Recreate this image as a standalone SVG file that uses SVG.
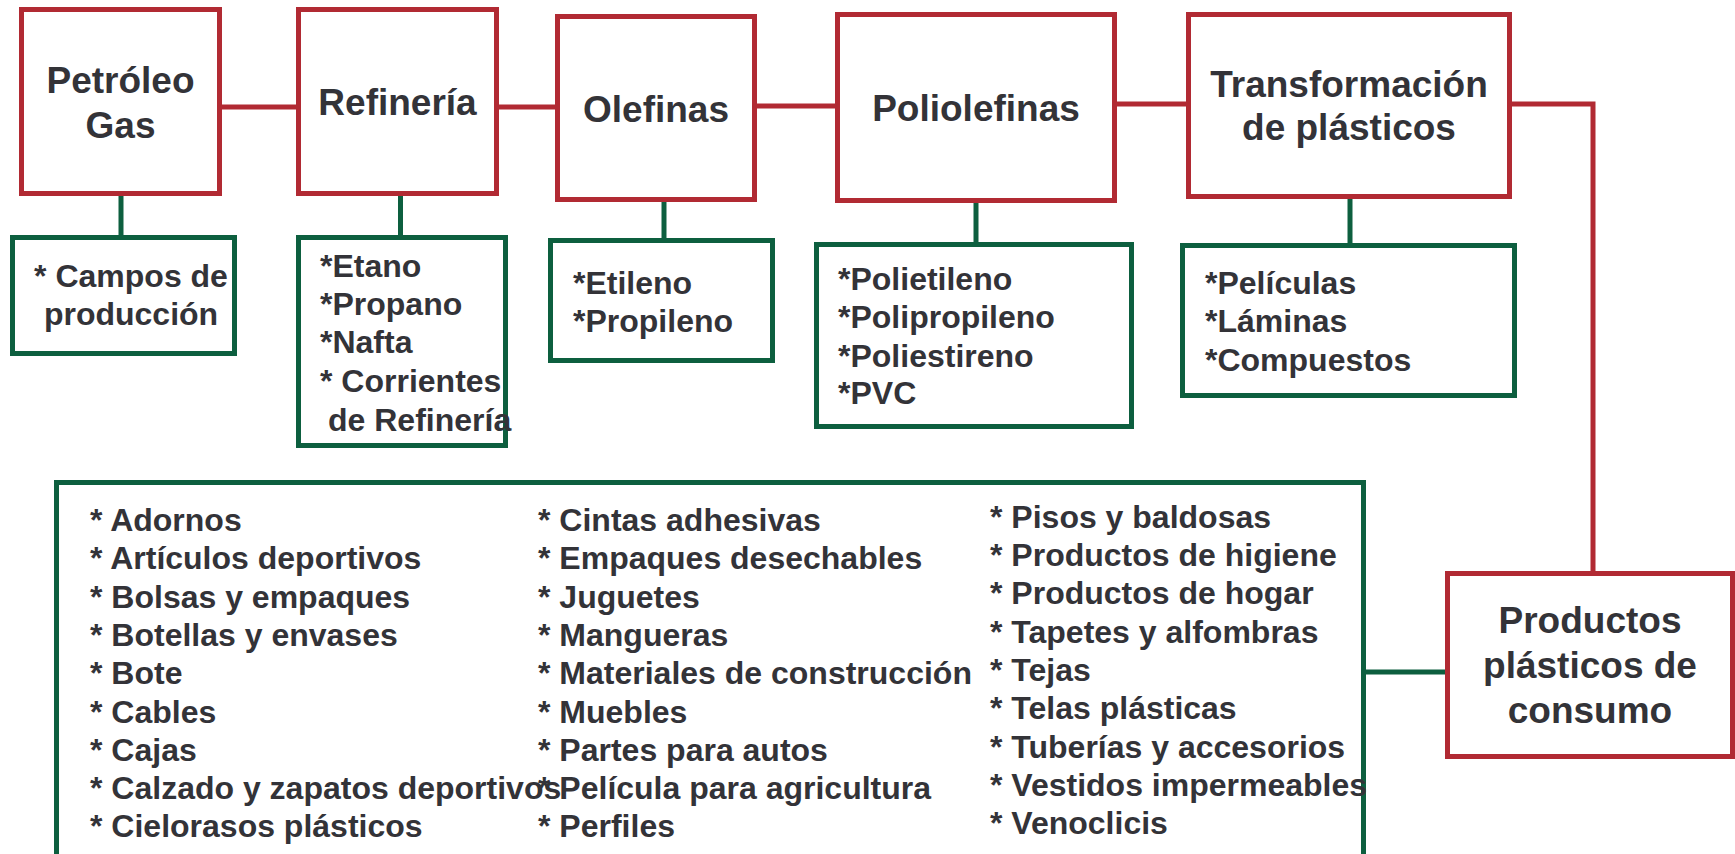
<svg xmlns="http://www.w3.org/2000/svg" width="1735" height="854" viewBox="0 0 1735 854">
<style>
.red{fill:#fff;stroke:#B12A33;stroke-width:5}
.grn{fill:#fff;stroke:#0D5F3F;stroke-width:5}
.rl{fill:none;stroke:#B12A33;stroke-width:5}
.gl{fill:none;stroke:#0D5F3F;stroke-width:5}
text{font-family:"Liberation Sans",Arial,Helvetica,sans-serif;font-weight:bold;fill:#333338}
.t{font-size:37px;text-anchor:middle}
.i{font-size:32px}
</style>
<rect width="1735" height="854" fill="#fff"/>
<g id="connectors">
<line class="rl" x1="220" y1="107" x2="298" y2="107"/>
<line class="rl" x1="497" y1="107" x2="557" y2="107"/>
<line class="rl" x1="755" y1="106" x2="837" y2="106"/>
<line class="rl" x1="1115" y1="104" x2="1188" y2="104"/>
<polyline class="rl" points="1510,104 1593,104 1593,573"/>
<line class="gl" x1="121" y1="194" x2="121" y2="237"/>
<line class="gl" x1="400.5" y1="194" x2="400.5" y2="237"/>
<line class="gl" x1="664" y1="200" x2="664" y2="240"/>
<line class="gl" x1="976" y1="201" x2="976" y2="244"/>
<line class="gl" x1="1350" y1="197" x2="1350" y2="245"/>
<line class="gl" x1="1364" y1="672" x2="1447" y2="672"/>
</g>
<g id="petroleo">
<rect class="red" x="21.5" y="9.5" width="198" height="184"/>
<text class="t" x="120.5" y="93">Petróleo</text>
<text class="t" x="120.5" y="138">Gas</text>
</g>
<g id="refineria">
<rect class="red" x="298.5" y="9.5" width="198" height="184"/>
<text class="t" x="397.5" y="115">Refinería</text>
</g>
<g id="olefinas">
<rect class="red" x="557.5" y="16.5" width="197" height="183"/>
<text class="t" x="656" y="122">Olefinas</text>
</g>
<g id="poliolefinas">
<rect class="red" x="837.5" y="14.5" width="277" height="186"/>
<text class="t" x="976" y="121">Poliolefinas</text>
</g>
<g id="transformacion">
<rect class="red" x="1188.5" y="14.5" width="321" height="182"/>
<text class="t" x="1349" y="97">Transformación</text>
<text class="t" x="1349" y="140">de plásticos</text>
</g>
<g id="productos">
<rect class="red" x="1447.5" y="573.5" width="285" height="183"/>
<text class="t" x="1590" y="633">Productos</text>
<text class="t" x="1590" y="678">plásticos de</text>
<text class="t" x="1590" y="723">consumo</text>
</g>
<g id="campos">
<rect class="grn" x="12.5" y="237.5" width="222" height="116"/>
<text class="i" x="131" y="287" text-anchor="middle">* Campos de</text>
<text class="i" x="131" y="325" text-anchor="middle">producción</text>
</g>
<g id="refineria-items">
<rect class="grn" x="298.5" y="237.5" width="207" height="208"/>
<text class="i" x="320" y="277">*Etano</text>
<text class="i" x="320" y="315">*Propano</text>
<text class="i" x="320" y="353">*Nafta</text>
<text class="i" x="320" y="392">* Corrientes</text>
<text class="i" x="328" y="431">de Refinería</text>
</g>
<g id="olefinas-items">
<rect class="grn" x="550.5" y="240.5" width="222" height="120"/>
<text class="i" x="573" y="294">*Etileno</text>
<text class="i" x="573" y="332">*Propileno</text>
</g>
<g id="poliolefinas-items">
<rect class="grn" x="816.5" y="244.5" width="315" height="182"/>
<text class="i" x="838" y="290">*Polietileno</text>
<text class="i" x="838" y="328">*Polipropileno</text>
<text class="i" x="838" y="367">*Poliestireno</text>
<text class="i" x="838" y="404">*PVC</text>
</g>
<g id="transformacion-items">
<rect class="grn" x="1182.5" y="245.5" width="332" height="150"/>
<text class="i" x="1205" y="294">*Películas</text>
<text class="i" x="1205" y="332">*Láminas</text>
<text class="i" x="1205" y="371">*Compuestos</text>
</g>
<g id="productos-items">
<rect class="grn" x="56.5" y="482.5" width="1307" height="390"/>
<text class="i" x="90" y="531">* Adornos</text>
<text class="i" x="90" y="569">* Artículos deportivos</text>
<text class="i" x="90" y="608">* Bolsas y empaques</text>
<text class="i" x="90" y="646">* Botellas y envases</text>
<text class="i" x="90" y="684">* Bote</text>
<text class="i" x="90" y="723">* Cables</text>
<text class="i" x="90" y="761">* Cajas</text>
<text class="i" x="90" y="799">* Calzado y zapatos deportivos</text>
<text class="i" x="90" y="837">* Cielorasos plásticos</text>
<text class="i" x="538" y="531">* Cintas adhesivas</text>
<text class="i" x="538" y="569">* Empaques desechables</text>
<text class="i" x="538" y="608">* Juguetes</text>
<text class="i" x="538" y="646">* Mangueras</text>
<text class="i" x="538" y="684">* Materiales de construcción</text>
<text class="i" x="538" y="723">* Muebles</text>
<text class="i" x="538" y="761">* Partes para autos</text>
<text class="i" x="538" y="799">* Película para agricultura</text>
<text class="i" x="538" y="837">* Perfiles</text>
<text class="i" x="990" y="528">* Pisos y baldosas</text>
<text class="i" x="990" y="566">* Productos de higiene</text>
<text class="i" x="990" y="604">* Productos de hogar</text>
<text class="i" x="990" y="643">* Tapetes y alfombras</text>
<text class="i" x="990" y="681">* Tejas</text>
<text class="i" x="990" y="719">* Telas plásticas</text>
<text class="i" x="990" y="758">* Tuberías y accesorios</text>
<text class="i" x="990" y="796">* Vestidos impermeables</text>
<text class="i" x="990" y="834">* Venoclicis</text>
</g>
</svg>
